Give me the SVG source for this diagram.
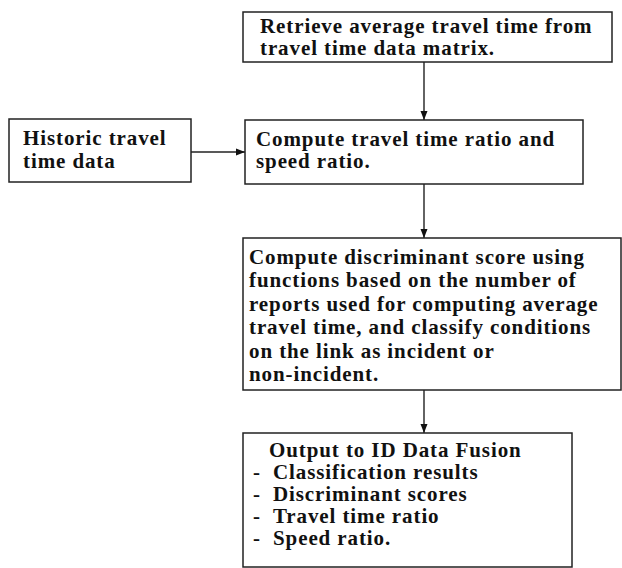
<svg xmlns="http://www.w3.org/2000/svg" width="622" height="568" viewBox="0 0 622 568">
<defs>
<marker id="arr" markerWidth="10" markerHeight="8" refX="9" refY="4" orient="auto" markerUnits="userSpaceOnUse">
<path d="M0,0.5 L9,4 L0,7.5 Z" fill="#111"/>
</marker>
<style>
.box{fill:#fff;stroke:#222;stroke-width:1.5}
.t{font-family:"Liberation Serif","Times New Roman",serif;font-weight:bold;font-size:21px;letter-spacing:0.9px;fill:#111}
.c{stroke:#222;stroke-width:1.4;fill:none}
</style>
</defs>
<rect width="622" height="568" fill="#fff"/>
<g id="connectors">
<line class="c" x1="424" y1="62" x2="424" y2="120" marker-end="url(#arr)"/>
<line class="c" x1="191" y1="152" x2="245" y2="152" marker-end="url(#arr)"/>
<line class="c" x1="424" y1="184" x2="424" y2="238" marker-end="url(#arr)"/>
<line class="c" x1="424" y1="390" x2="424" y2="433" marker-end="url(#arr)"/>
</g>
<g id="retrieve">
<rect class="box" x="243" y="12" width="369" height="50"/>
<text class="t" x="260" y="33">Retrieve average travel time from</text>
<text class="t" x="260" y="55">travel time data matrix.</text>
</g>
<g id="historic">
<rect class="box" x="9" y="119" width="182" height="63"/>
<text class="t" x="23" y="145">Historic travel</text>
<text class="t" x="23" y="168">time data</text>
</g>
<g id="compute-ratio">
<rect class="box" x="245" y="120" width="338" height="64"/>
<text class="t" x="256" y="146">Compute travel time ratio and</text>
<text class="t" x="256" y="168">speed ratio.</text>
</g>
<g id="discriminant">
<rect class="box" x="243" y="238" width="378" height="152"/>
<text class="t" x="249" y="264">Compute discriminant score using</text>
<text class="t" x="249" y="287">functions based on the number of</text>
<text class="t" x="249" y="311">reports used for computing average</text>
<text class="t" x="249" y="334">travel time, and classify conditions</text>
<text class="t" x="249" y="358">on the link as incident or</text>
<text class="t" x="249" y="381">non-incident.</text>
</g>
<g id="output">
<rect class="box" x="243" y="433" width="329" height="134"/>
<text class="t" x="269" y="457">Output to ID Data Fusion</text>
<text class="t" x="253" y="479">-</text><text class="t" x="273" y="479">Classification results</text>
<text class="t" x="253" y="501">-</text><text class="t" x="273" y="501">Discriminant scores</text>
<text class="t" x="253" y="523">-</text><text class="t" x="273" y="523">Travel time ratio</text>
<text class="t" x="253" y="545">-</text><text class="t" x="273" y="545">Speed ratio.</text>
</g>
</svg>
